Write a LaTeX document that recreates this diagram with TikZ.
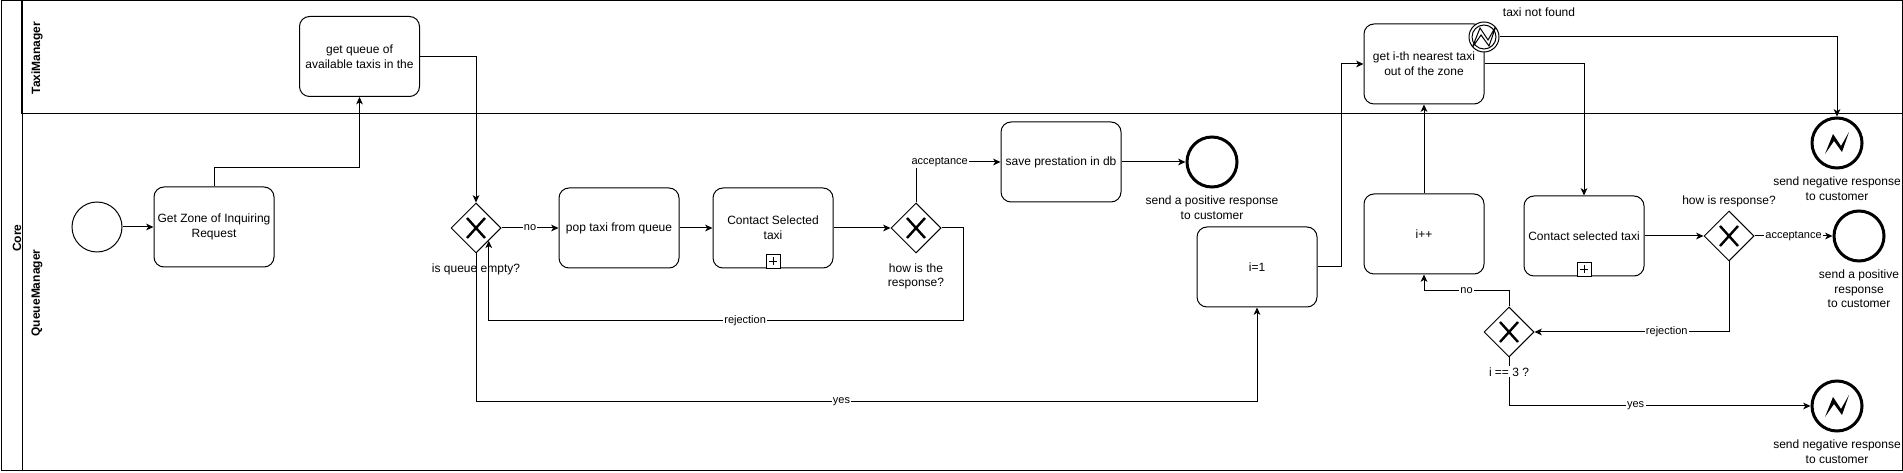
\documentclass[tikz,border=0pt]{standalone}
\usepackage{fontspec}
\setmainfont{Liberation Sans}
\usetikzlibrary{positioning,shapes.geometric,arrows.meta}

\newcommand{\tasksize}{\fontsize{9pt}{11pt}\selectfont}
\newcommand{\edgesize}{\fontsize{8.25pt}{9.5pt}\selectfont}

\tikzset{
  task/.style={draw, rounded corners=7.5pt, minimum width=90pt, minimum height=60pt,
    align=center, font=\tasksize, inner sep=2pt, fill=white},
  gateway/.style={draw, diamond, aspect=1, minimum size=37.5pt, inner sep=0pt, fill=white,
    path picture={\draw[line width=1.8pt]
      ([shift={(-9,-10)}]path picture bounding box.center) -- ([shift={(9,10)}]path picture bounding box.center)
      ([shift={(-9,10)}]path picture bounding box.center) -- ([shift={(9,-10)}]path picture bounding box.center);}},
  startev/.style={draw, circle, minimum size=37.5pt, inner sep=0pt},
  endev/.style={draw, circle, minimum size=37.5pt, inner sep=0pt, line width=2.25pt},
  errorend/.style={endev,
    path picture={\fill[shift={(path picture bounding box.center)}]
      (-12,11) -- (-4,-9) -- (4,3) -- (12,-11) -- (5,9) -- (-3,-2) -- cycle;}},
  errorcatch/.style={draw, circle, minimum size=22.5pt, inner sep=0pt, fill=white,
    path picture={\draw (path picture bounding box.center) circle (9pt);
      \draw[shift={(path picture bounding box.center)}, scale=0.55]
      (-12,11) -- (-4,-9) -- (4,3) -- (12,-11) -- (5,9) -- (-3,-2) -- cycle;}},
  subplus/.style={draw, minimum size=10.5pt, inner sep=0pt, outer sep=0pt, anchor=south, fill=white,
    path picture={\draw
      ([shift={(-4,0)}]path picture bounding box.center) -- ([shift={(4,0)}]path picture bounding box.center)
      ([shift={(0,-4)}]path picture bounding box.center) -- ([shift={(0,4)}]path picture bounding box.center);}},
  evlabel/.style={align=center, font=\tasksize, inner sep=0pt},
  lanelabel/.style={font=\tasksize\bfseries, inner sep=0pt, rotate=90},
  elabel/.style={fill=white, font=\edgesize, inner sep=1pt},
  flow/.style={-{Stealth[length=5.5pt, width=5pt, inset=1.5pt]}}
}

\begin{document}
\begin{tikzpicture}[x=0.75pt, y=-0.75pt, line width=0.75pt]
\useasboundingbox (0,0) rectangle (1903,473);

\draw (1,1) rectangle (1902,471);
\draw (22,1) -- (22,471);
\draw (22,114) -- (1902,114);
\draw [line width=1.5pt] (22,1) -- (22,114);

\node[lanelabel] (corelabel) at (17,238) {Core};
\node[lanelabel] (taxilabel) at (37,58) {TaxiManager};
\node[lanelabel] (queuelabel) at (37,293) {QueueManager};

\node[startev] (start) at (97,227) {};
\node[task] (zone) at (214,227) {Get Zone of Inquiring\\Request};
\node[task] (queue) at (359.5,56.5) {get queue of\\available taxis in the};
\node[gateway] (gw1) at (476,228) {};
\node[task] (pop) at (619,228) {pop taxi from queue};
\node[task] (contact) at (773,228) {Contact Selected\\taxi};
\node[subplus] (contactplus) at (contact.south) {};
\node[gateway] (gw2) at (916,228) {};
\node[task] (save) at (1061,162) {save prestation in db};
\node[endev] (endA) at (1212,162) {};
\node[task] (init) at (1257,267) {i=1};
\node[task] (nearest) at (1424,64) {get i-th nearest taxi\\out of the zone};
\node[errorcatch] (err) at (1484,37) {};
\node[task] (incr) at (1424,234) {i++};
\node[task] (contact2) at (1584,236) {Contact selected taxi};
\node[subplus] (contact2plus) at (contact2.south) {};
\node[gateway] (gw3) at (1729,236) {};
\node[endev] (endB) at (1859,236) {};
\node[gateway] (gw4) at (1509,332) {};
\node[errorend] (negA) at (1837,143) {};
\node[errorend] (negB) at (1837,406) {};

\begin{scope}[flow]
\draw (start) -- (zone);
\draw (zone.north) -- ++(0,-19) -| (queue.south);
\draw (queue.east) -| (gw1.north);
\draw (gw1.east) -- node[elabel] {no} (pop.west);
\draw (pop) -- (contact);
\draw (contact) -- (gw2);
\draw (gw2.north) |- node[elabel, pos=0.64] {acceptance} (save.west);
\draw (save) -- (endA);
\draw (gw2.east) -- ++(22,0) -- ++(0,93) -| node[elabel, pos=0.23] {rejection} (gw1.south east);
\draw (gw1.south) -- ++(0,148) -| node[elabel, pos=0.234] {yes} (init.south);
\draw (init.east) -- ++(24,0) |- (nearest.west);
\draw (incr) -- (nearest);
\draw (nearest.east) -| (contact2.north);
\draw (err.east) -| (negA.north);
\draw (contact2) -- (gw3);
\draw (gw3) -- node[elabel] {acceptance} (endB);
\draw (gw3.south) |- node[elabel, pos=0.66] {rejection} (gw4.east);
\draw (gw4.north) -- ++(0,-16) -| node[elabel, pos=0.25] {no} (incr.south);
\draw (gw4.south) |- node[elabel, pos=0.71] {yes} (negB.west);
\end{scope}

\node[evlabel, below=7pt of gw1] (gw1label) {is queue empty?};
\node[evlabel, below=7pt of gw2] (gw2label) {how is the\\response?};
\node[evlabel, above=2.5pt of gw3] (gw3label) {how is response?};
\node[evlabel, fill=white, inner sep=1pt, below=6pt of gw4] (gw4label) {i == 3 ?};
\node[evlabel] (errlabel) at (1539,12) {taxi not found};
\node[evlabel, below=5pt of endA] (endAlabel) {send a positive response\\to customer};
\node[evlabel, below=5pt of negA] (negAlabel) {send negative response\\to customer};
\node[evlabel, below=5pt of endB] (endBlabel) {send a positive\\response\\to customer};
\node[evlabel, below=5pt of negB] (negBlabel) {send negative response\\to customer};

\end{tikzpicture}
\end{document}
